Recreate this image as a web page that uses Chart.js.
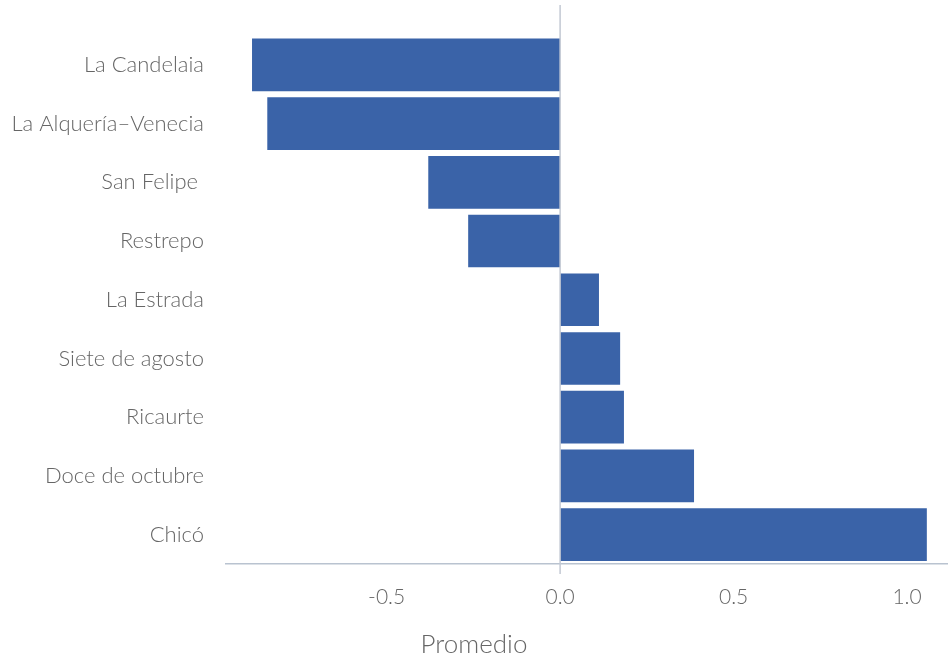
<!DOCTYPE html>
<html>
<head>
<meta charset="utf-8">
<script src="https://cdn.jsdelivr.net/npm/chart.js@4"></script>
<style>
  html, body { margin: 0; padding: 0; background: #fff; }
  #wrap { width: 948px; height: 662px; }
</style>
</head>
<body>
<div id="wrap"><canvas id="bar-chart"></canvas></div>
<script>
const barrios = ["La Candelaia", "La Alquería\u2013Venecia", "San Felipe ", "Restrepo", "La Estrada",
                 "Siete de agosto", "Ricaurte", "Doce de octubre", "Chicó"];
const promedio = [-0.888, -0.844, -0.380, -0.265, 0.112, 0.173, 0.184, 0.386, 1.057];
const xTicks = [-0.5, 0.0, 0.5, 1.0];

const fontFam = "Lato, 'Open Sans', sans-serif";

// gray zero line drawn over the bars
const zeroLine = {
  id: 'zeroLine',
  afterDatasetsDraw(chart) {
    const ctx = chart.ctx;
    const x = chart.scales.x.getPixelForValue(0);
    ctx.save();
    ctx.strokeStyle = '#c3c9d3';
    ctx.lineWidth = 1.5;
    ctx.beginPath();
    ctx.moveTo(x, 5);
    ctx.lineTo(x, chart.chartArea.bottom + 10);
    ctx.stroke();
    ctx.restore();
  }
};

new Chart(document.getElementById("bar-chart"), {
  type: 'bar',
  data: {
    labels: barrios,
    datasets: [{
      data: promedio,
      backgroundColor: '#3a63a8',
      borderWidth: 0,
      barPercentage: 0.897,
      categoryPercentage: 1.0
    }]
  },
  plugins: [zeroLine],
  options: {
    indexAxis: 'y',
    responsive: true,
    maintainAspectRatio: false,
    animation: false,
    layout: { padding: { top: 35.5, right: 0, left: 0, bottom: 0 } },
    plugins: {
      legend: { display: false },
      tooltip: { enabled: false },
      title: {
        display: true,
        position: 'bottom',
        text: 'Promedio',
        color: '#666',
        font: { family: fontFam, size: 26, weight: '300' },
        padding: { top: 12, bottom: 2 }
      }
    },
    scales: {
      x: {
        min: -0.963,
        max: 1.118,
        afterBuildTicks: (scale) => { scale.ticks = xTicks.map(v => ({ value: v })); },
        afterFit: (scale) => { scale.height = 52.8; },
        grid: { display: false, drawTicks: false },
        border: { display: true, color: '#b9c3d0', width: 1.5 },
        ticks: {
          padding: 21,
          color: '#666',
          font: { family: fontFam, size: 21, weight: '300' },
          callback: (v) => Number(v).toFixed(1)
        }
      },
      y: {
        afterFit: (scale) => { scale.width = 226; },
        grid: { display: false, drawTicks: false },
        border: { display: false },
        ticks: {
          padding: 22,
          color: '#666',
          font: { family: fontFam, size: 22, weight: '300' }
        }
      }
    }
  }
});
</script>
</body>
</html>
